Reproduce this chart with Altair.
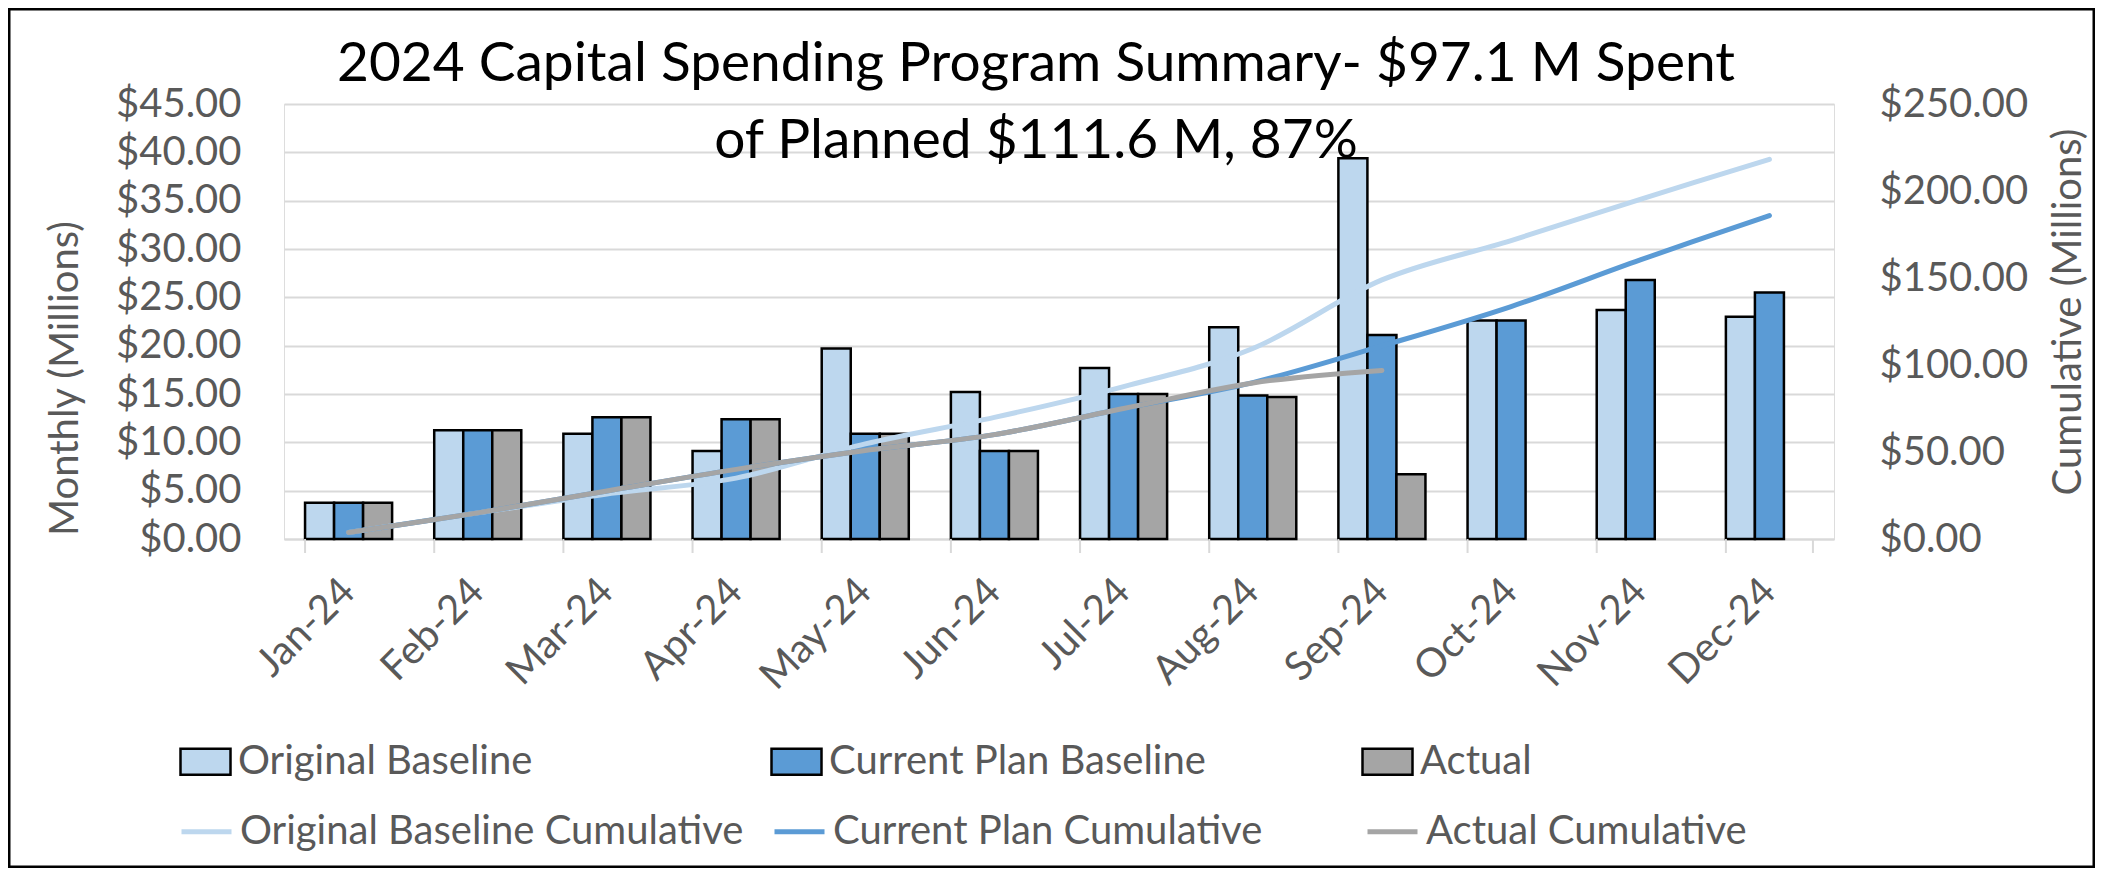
import altair as alt
import pandas as pd

months = ["Jan-24", "Feb-24", "Mar-24", "Apr-24", "May-24", "Jun-24",
          "Jul-24", "Aug-24", "Sep-24", "Oct-24", "Nov-24", "Dec-24"]
bar_series = ["Original Baseline", "Current Plan Baseline", "Actual"]
line_series = ["Original Baseline Cumulative", "Current Plan Cumulative", "Actual Cumulative"]

original_baseline = [3.75, 11.25, 10.9, 9.1, 19.7, 15.2, 17.7, 21.9, 39.4, 22.6, 23.7, 23.0]
current_plan = [3.75, 11.25, 12.6, 12.4, 10.9, 9.1, 15.0, 14.85, 21.1, 22.6, 26.8, 25.5]
actual = [3.75, 11.25, 12.6, 12.4, 10.9, 9.1, 15.0, 14.7, 6.7]

original_cum = [3.75, 15.0, 25.9, 35.0, 54.7, 69.9, 87.6, 109.5, 148.9, 171.5, 195.2, 218.2]
current_cum = [3.75, 15.0, 27.6, 40.0, 50.9, 60.0, 75.0, 89.9, 111.0, 133.6, 160.4, 185.9]
actual_cum = [3.75, 15.0, 27.6, 40.0, 50.9, 60.0, 75.0, 89.7, 96.9]

bar_colors = ["#BDD7EE", "#5B9BD5", "#A5A5A5"]
line_colors = ["#BDD7EE", "#5B9BD5", "#A5A5A5"]

title_lines = ["2024 Capital Spending Program Summary- $97.1 M Spent",
               "of Planned $111.6 M, 87%"]

rows = []
for s, vals in zip(bar_series, [original_baseline, current_plan, actual]):
    for i, v in enumerate(vals):
        rows.append({"month": months[i], "series": s, "value": v})
df_bars = pd.DataFrame(rows)

rows = []
for s, vals in zip(line_series, [original_cum, current_cum, actual_cum]):
    for i, v in enumerate(vals):
        rows.append({"month": months[i], "idx": i, "series": s, "value": v})
df_lines = pd.DataFrame(rows)

W, H = 1550, 435
FONT = "Lato"
GREY_TXT = "#595959"
GRID = "#d9d9d9"

x_bar = alt.X(
    "month:N", sort=months,
    scale=alt.Scale(domain=months, paddingInner=0.326, paddingOuter=0.163),
    axis=alt.Axis(title=None, labelAngle=-45, labelAlign="right", labelBaseline="middle",
                  labelPadding=46, ticks=False, domainColor=GRID, domainWidth=2,
                  labelFont=FONT, labelFontSize=40, labelColor=GREY_TXT, grid=False),
)

frame = alt.Chart(pd.DataFrame({"a": [0]})).mark_rect(
    fill="transparent", stroke="black", strokeWidth=3
).encode(x=alt.value(-275), x2=alt.value(1810), y=alt.value(-95), y2=alt.value(763))

bars = alt.Chart(df_bars).mark_bar(stroke="black", strokeWidth=2.5).encode(
    x=x_bar,
    xOffset=alt.XOffset("series:N", sort=bar_series,
                        scale=alt.Scale(domain=bar_series, paddingInner=0, paddingOuter=0)),
    y=alt.Y("value:Q", scale=alt.Scale(domain=[0, 45], nice=False),
            axis=alt.Axis(title="Monthly (Millions)", orient="left",
                          values=[0, 5, 10, 15, 20, 25, 30, 35, 40, 45], format="$,.2f",
                          grid=True, gridColor=GRID, gridWidth=2, ticks=False, domain=False,
                          labelPadding=43, labelFont=FONT, labelFontSize=40, labelColor=GREY_TXT,
                          titleFont=FONT, titleFontSize=40, titleColor=GREY_TXT,
                          titleFontWeight="normal", titleAngle=270, titleX=-207, titleY=274,
                          titleAlign="center", titleBaseline="alphabetic")),
    fill=alt.Fill("series:N", sort=bar_series,
                  scale=alt.Scale(domain=bar_series, range=bar_colors),
                  legend=alt.Legend(title=None, orient="none", legendX=-105, legendY=631,
                                    direction="horizontal", columns=3, columnPadding=151,
                                    gridAlign="all", symbolType="M-1,-0.52H1V0.52H-1Z",
                                    symbolSize=2500, symbolStrokeColor="black",
                                    symbolStrokeWidth=2.5, symbolOpacity=1,
                                    labelFont=FONT, labelFontSize=40, labelColor=GREY_TXT,
                                    labelLimit=1000, labelOffset=6, padding=0)),
)

lines = alt.Chart(df_lines).mark_line(strokeWidth=5, interpolate="cardinal", strokeCap="round").encode(
    x=alt.X("month:N", sort=months),
    y=alt.Y("value:Q", scale=alt.Scale(domain=[0, 250], nice=False),
            axis=alt.Axis(title="Cumulative (Millions)", orient="right",
                          values=[0, 50, 100, 150, 200, 250], format="$,.2f",
                          grid=False, ticks=False, domain=False, labelPadding=45,
                          labelFont=FONT, labelFontSize=40, labelColor=GREY_TXT,
                          titleFont=FONT, titleFontSize=40, titleColor=GREY_TXT,
                          titleFontWeight="normal", titleAngle=270, titleX=246, titleY=207.5,
                          titleAlign="center", titleBaseline="alphabetic")),
    stroke=alt.Stroke("series:N", sort=line_series,
                      scale=alt.Scale(domain=line_series, range=line_colors),
                      legend=alt.Legend(title=None, orient="none", legendX=-105, legendY=700,
                                        direction="horizontal", columns=3, columnPadding=20,
                                        gridAlign="all", symbolType="stroke", symbolSize=2500,
                                        symbolStrokeWidth=5, symbolOpacity=1,
                                        labelFont=FONT, labelFontSize=40, labelColor=GREY_TXT,
                                        labelLimit=1000, labelOffset=6, padding=0)),
    order=alt.Order("idx:Q"),
)

ticks = alt.Chart(pd.DataFrame({"month": months})).mark_rule(color=GRID, strokeWidth=2).encode(
    x=alt.X("month:N", sort=months, bandPosition=0),
    y=alt.value(H), y2=alt.value(H + 14),
)
tick_end = alt.Chart(pd.DataFrame({"month": [months[-1]]})).mark_rule(color=GRID, strokeWidth=2).encode(
    x=alt.X("month:N", sort=months, bandPosition=1),
    y=alt.value(H), y2=alt.value(H + 14),
)

chart = alt.layer(frame, bars, lines, ticks, tick_end).resolve_scale(
    y="independent", fill="independent", stroke="independent"
).properties(
    width=W, height=H,
    padding={"left": 276, "top": 96, "right": 261, "bottom": 329},
    autosize=alt.AutoSizeParams(type="none"),
    title=alt.TitleParams(text=title_lines, anchor="middle", frame="group", font=FONT,
                          fontSize=55, fontWeight="normal", color="black", lineHeight=77,
                          baseline="alphabetic", offset=0, dx=-23, dy=205),
).configure_view(stroke=None).configure(background="white")

chart.save("out.html", embed_options={"renderer": "svg", "actions": False})
